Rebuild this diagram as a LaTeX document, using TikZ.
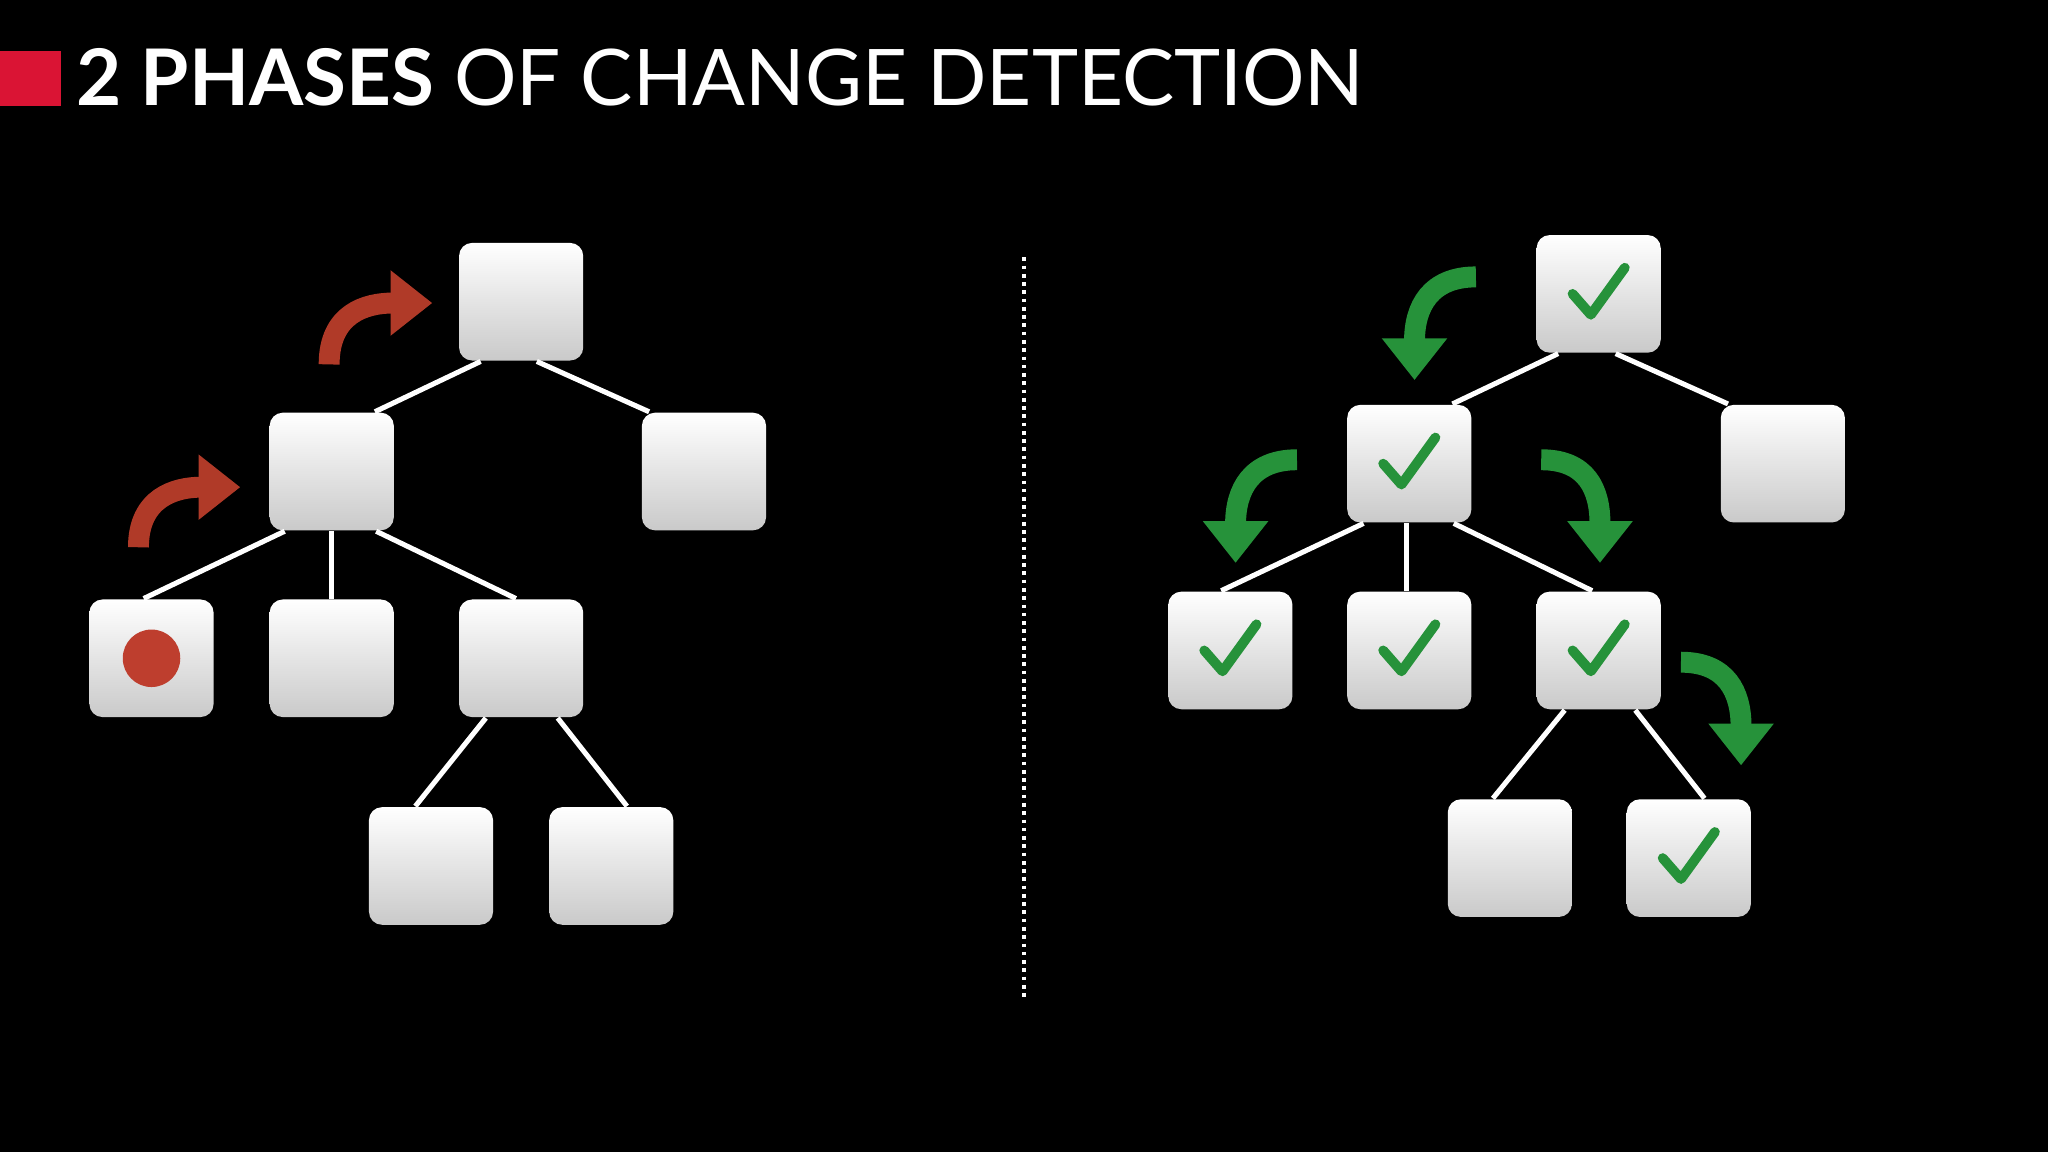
\documentclass[tikz,border=0pt]{standalone}
\usepackage{fontspec}
\setmainfont{Lato}
\usetikzlibrary{arrows.meta,calc}
\definecolor{titlered}{RGB}{218,20,52}
\definecolor{arrred}{RGB}{176,58,40}
\definecolor{arrgreen}{RGB}{38,146,58}
\definecolor{dotred}{RGB}{190,62,46}
\tikzset{
  box/.style={minimum width=0.95cm, minimum height=0.9cm, rounded corners=0.1cm,
    top color=white, bottom color=gray!42, draw=none, inner sep=0pt},
  edge/.style={draw=white, line width=1.1pt},
  redarr/.style={draw=arrred, line width=0.16cm, -{Triangle[length=0.32cm,width=0.48cm]}},
  greenarr/.style={draw=arrgreen, line width=0.16cm, -{Triangle[length=0.32cm,width=0.48cm]}},
  chk/.style={draw=arrgreen, line width=0.075cm, line cap=round, line join=round}
}
\newcommand\chkmark[1]{\draw[chk] ($(#1)+(-20,0)$) -- ($(#1)+(-6,16)$) -- ($(#1)+(20,-20)$);}
\begin{document}
\begin{tikzpicture}[x=0.01cm,y=-0.01cm]
    \fill[black] (0,0) rectangle (1568,882);
    \useasboundingbox (0,0) rectangle (1568,882);

    % title
    \fill[titlered] (0,39) rectangle (47,81);
    \node[anchor=base west, text=white, font=\fontsize{17}{17}\selectfont, inner sep=0pt] (title) at (58,81)
      {\textbf{2 PHASES} OF CHANGE DETECTION};

    % left tree
    \node[box] (1) at (399,231) {};
    \node[box] (2) at (254,361) {};
    \node[box] (3) at (539,361) {};
    \node[box] (4) at (116,504) {};
    \node[box] (5) at (254,504) {};
    \node[box] (6) at (399,504) {};
    \node[box] (7) at (330,663) {};
    \node[box] (8) at (468,663) {};
    \fill[dotred] (4) circle (0.22cm);

    \path[edge] ([xshift=-0.31cm]1.south) -- ([xshift=0.33cm]2.north);
    \path[edge] ([xshift=0.12cm]1.south) -- ([xshift=-0.42cm]3.north);
    \path[edge] ([xshift=-0.36cm]2.south) -- ([xshift=-0.06cm]4.north);
    \path[edge] (2.south) -- (5.north);
    \path[edge] ([xshift=0.34cm]2.south) -- ([xshift=-0.04cm]6.north);
    \path[edge] ([xshift=-0.27cm]6.south) -- ([xshift=-0.12cm]7.north);
    \path[edge] ([xshift=0.28cm]6.south) -- ([xshift=0.12cm]8.north);

    \draw[redarr] (252,279) .. controls (252,240) and (280,232) .. (331,232);
    \draw[redarr] (106,419) .. controls (106,381) and (134,373) .. (184,373);

    % divider
    \coordinate (top) at (784,197);
    \coordinate (bot) at (784,763);
    \draw[white, densely dotted, line width=0.8pt] (top) -- (bot);

    % right tree
    \node[box] (r1) at (1224,225) {};
    \node[box] (r2) at (1079,355) {};
    \node[box] (r3) at (1365,355) {};
    \node[box] (r4) at (942,498) {};
    \node[box] (r5) at (1079,498) {};
    \node[box] (r6) at (1224,498) {};
    \node[box] (r7) at (1156,657) {};
    \node[box] (r8) at (1293,657) {};
    \foreach \n in {r1,r2,r4,r5,r6,r8} {\chkmark{\n}}

    \path[edge] ([xshift=-0.31cm]r1.south) -- ([xshift=0.33cm]r2.north);
    \path[edge] ([xshift=0.13cm]r1.south) -- ([xshift=-0.42cm]r3.north);
    \path[edge] ([xshift=-0.35cm]r2.south) -- ([xshift=-0.07cm]r4.north);
    \path[edge] ([xshift=-0.02cm]r2.south) -- ([xshift=-0.02cm]r5.north);
    \path[edge] ([xshift=0.34cm]r2.south) -- ([xshift=-0.05cm]r6.north);
    \path[edge] ([xshift=-0.26cm]r6.south) -- ([xshift=-0.13cm]r7.north);
    \path[edge] ([xshift=0.28cm]r6.south) -- ([xshift=0.12cm]r8.north);

    \draw[greenarr] (1130,212) .. controls (1095,212) and (1083,235) .. (1083,291);
    \draw[greenarr] (993,352) .. controls (958,352) and (946,375) .. (946,431);
    \draw[greenarr] (1180,352) .. controls (1215,352) and (1225,375) .. (1225,431);
    \draw[greenarr] (1287,507) .. controls (1322,507) and (1333,530) .. (1333,586);
\end{tikzpicture}
\end{document}
